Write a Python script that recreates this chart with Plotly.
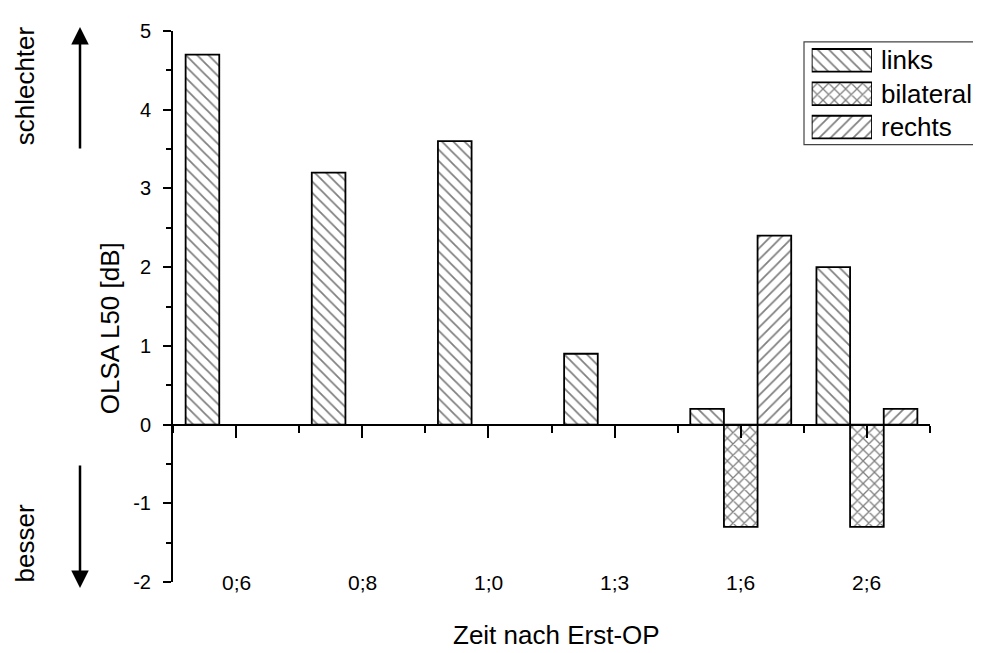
import plotly.graph_objects as go

# ---- data ----
categories = ["0;6", "0;8", "1;0", "1;3", "1;6", "2;6"]
series_names = ["links", "bilateral", "rechts"]
links = [4.7, 3.2, 3.6, 0.9, 0.2, 2.0]
bilateral = [None, None, None, None, -1.3, -1.3]
rechts = [None, None, None, None, 2.4, 0.2]
y_ticks = [-2, -1, 0, 1, 2, 3, 4, 5]
y_ticktext = ["-2", "-1", "0", "1", "2", "3", "4", "5"]

patterns = {"links": "\\", "bilateral": "x", "rechts": "/"}
pat_solid = {"links": 0.22, "bilateral": 0.3, "rechts": 0.22}
values = {"links": links, "bilateral": bilateral, "rechts": rechts}

OFF = 8  # body margin of the page
W, H = 981 - OFF, 653 - OFF
# plot area in page pixels: x 173..930, y 24..582
PL, PR, PT, PB = 173, 930, 24, 582
ML, MT = PL - OFF, PT - OFF
PW, PH = PR - PL, PB - PT
MR = W - ML - PW
MB = H - MT - PH

def px_x(p):
    return (p - PL) / PW

def px_y(p):
    return (PB - p) / PH

FONT = "Arial, Liberation Sans, sans-serif"
xpos = list(range(len(categories)))

def marker_for(name):
    return dict(color="white",
                line=dict(color="black", width=1.8),
                pattern=dict(shape=patterns[name], fgcolor="black",
                             bgcolor="white", size=8, solidity=pat_solid[name]))

fig = go.Figure()
for name in series_names:
    fig.add_trace(go.Bar(x=xpos, y=values[name], name=name,
                         marker=marker_for(name), showlegend=False))

# legend swatches drawn as bars on their own small axes
for name in series_names:
    fig.add_trace(go.Bar(
        x=[1], y=[name], orientation="h", base=0, width=0.68, offset=-0.34,
        xaxis="x3", yaxis="y3", showlegend=False, hoverinfo="skip",
        marker=marker_for(name),
    ))

annotations = []
for i, c in enumerate(categories):
    annotations.append(dict(x=xpos[i], y=y_ticks[0], xref="x", yref="y",
                            text=c, showarrow=False, xanchor="center",
                            yanchor="middle",
                            font=dict(size=21, family=FONT, color="black")))
for name in series_names:
    annotations.append(dict(x=px_x(879), y=name, xref="paper", yref="y3",
                            text=name, showarrow=False, xanchor="left",
                            yanchor="middle",
                            font=dict(size=26, family=FONT, color="black")))
annotations += [
    dict(x=px_x(110), y=px_y(325), xref="paper", yref="paper",
         text="OLSA L50 [dB]", textangle=-90, showarrow=False,
         xanchor="center", yanchor="middle",
         font=dict(size=26, family=FONT, color="black")),
    dict(x=px_x(556), y=px_y(636), xref="paper", yref="paper",
         text="Zeit nach Erst-OP", showarrow=False,
         xanchor="center", yanchor="middle",
         font=dict(size=26, family=FONT, color="black")),
    dict(x=px_x(25), y=px_y(80), xref="paper", yref="paper",
         text="schlechter", textangle=-90, showarrow=False,
         xanchor="center", yanchor="middle",
         font=dict(size=26, family=FONT, color="black")),
    dict(x=px_x(25), y=px_y(543), xref="paper", yref="paper",
         text="besser", textangle=-90, showarrow=False,
         xanchor="center", yanchor="middle",
         font=dict(size=26, family=FONT, color="black")),
    dict(x=px_x(80), y=px_y(20), xref="paper", yref="paper", text="",
         showarrow=True, ax=0, ay=123, arrowhead=2, arrowsize=1.4,
         arrowwidth=2.5, arrowcolor="black", standoff=0),
    dict(x=px_x(80), y=px_y(588), xref="paper", yref="paper", text="",
         showarrow=True, ax=0, ay=-124, arrowhead=2, arrowsize=1.4,
         arrowwidth=2.5, arrowcolor="black", standoff=0),
]

fig.update_layout(
    width=W, height=H,
    margin=dict(l=ML, r=MR, t=MT, b=MB, pad=0),
    paper_bgcolor="white", plot_bgcolor="white",
    barmode="group", bargap=0.2, bargroupgap=0,
    showlegend=False,
    font=dict(family=FONT, color="black"),
    xaxis=dict(
        range=[-0.5, len(categories) - 0.5], tickvals=xpos,
        showticklabels=False, showgrid=False, zeroline=False,
        showline=True, linecolor="black", linewidth=2,
        ticks="outside", ticklen=12, tickwidth=2, tickcolor="black",
        minor=dict(ticks="outside", ticklen=7, tickwidth=2, tickcolor="black",
                   tick0=-0.5, dtick=1),
        anchor="free", position=(0 - y_ticks[0]) / (y_ticks[-1] - y_ticks[0]),
    ),
    yaxis=dict(
        range=[y_ticks[0], y_ticks[-1]], tickvals=y_ticks, ticktext=y_ticktext,
        showgrid=False, zeroline=False,
        showline=True, linecolor="black", linewidth=2,
        ticks="outside", ticklen=8, tickwidth=2, tickcolor="black",
        minor=dict(ticks="outside", ticklen=5, tickwidth=2, tickcolor="black",
                   dtick=0.5, tick0=0),
        tickfont=dict(size=20, family=FONT, color="black"),
        ticklabelstandoff=8,
    ),
    xaxis3=dict(domain=[px_x(811.7), px_x(872)], range=[0, 1], visible=False,
                anchor="y3", fixedrange=True),
    yaxis3=dict(domain=[px_y(138.2), px_y(36.8)], range=[2.5, -0.5],
                type="category", categoryarray=series_names, visible=False,
                anchor="x3", fixedrange=True),
    annotations=annotations,
    shapes=[dict(type="rect", xref="paper", yref="paper",
                 x0=px_x(804), x1=px_x(995), y0=px_y(139), y1=px_y(35),
                 line=dict(color="#444444", width=1.2), fillcolor="rgba(0,0,0,0)",
                 layer="below")],
)

fig.write_html("out.html")
